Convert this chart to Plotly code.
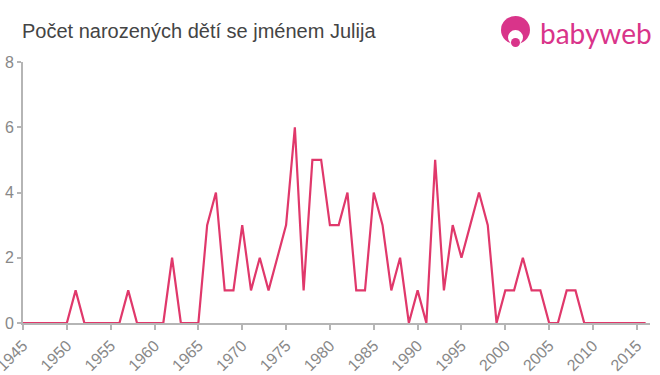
import plotly.graph_objects as go

years = list(range(1945, 2017))
counts = [0, 0, 0, 0, 0, 0, 1, 0, 0, 0,   # 1945-1954
          0, 0, 1, 0, 0, 0, 0, 2, 0, 0,   # 1955-1964
          0, 3, 4, 1, 1, 3, 1, 2, 1, 2,   # 1965-1974
          3, 6, 1, 5, 5, 3, 3, 4, 1, 1,   # 1975-1984
          4, 3, 1, 2, 0, 1, 0, 5, 1, 3,   # 1985-1994
          2, 3, 4, 3, 0, 1, 1, 2, 1, 1,   # 1995-2004
          0, 0, 1, 1, 0, 0, 0, 0, 0, 0,   # 2005-2014
          0, 0]                           # 2015-2016
x_ticks = list(range(1945, 2020, 5))
y_ticks = [0, 2, 4, 6, 8]

title_text = "Počet narozených dětí se jménem Julija"
logo_text = "babyweb"

line_color = "#e0386b"
logo_color = "#d9348a"
axis_color = "#b5b5b5"
label_color = "#888888"

L, R, T, B = 23, 10, 62, 52
W, H = 660, 375
pw = W - L - R
ph = H - T - B

def px(x):
    return (x - L) / pw

def py(y):
    return (H - B - y) / ph

fig = go.Figure()
fig.add_trace(go.Scatter(x=years, y=counts, mode="lines",
                         line=dict(color=line_color, width=2.2),
                         hoverinfo="x+y"))

fig.update_layout(
    width=W, height=H,
    margin=dict(l=L, r=R, t=T, b=B, autoexpand=False),
    paper_bgcolor="white", plot_bgcolor="white",
    showlegend=False,
    xaxis=dict(range=[1945, 2016.5], tickvals=x_ticks, ticktext=[str(t) for t in x_ticks],
               tickangle=-45, showgrid=False, zeroline=False, automargin=False,
               ticklabeloverflow="allow",
               showline=True, linecolor=axis_color, linewidth=2,
               ticks="outside", ticklen=5, tickcolor=axis_color, tickwidth=2,
               tickfont=dict(family="Liberation Sans, Arial", size=16, color=label_color)),
    yaxis=dict(range=[0, 8], tickvals=y_ticks, showgrid=False, zeroline=False, automargin=False,
               ticklabeloverflow="allow",
               showline=True, linecolor=axis_color, linewidth=2,
               ticks="outside", ticklen=4, tickcolor=axis_color, tickwidth=2,
               tickfont=dict(family="Liberation Sans, Arial", size=16, color=label_color)),
    annotations=[
        dict(text=title_text, x=px(20), y=py(31), xref="paper", yref="paper",
             showarrow=False, xanchor="left", yanchor="middle",
             font=dict(family="Liberation Sans, Arial", size=20, color="#444444")),
        dict(text=logo_text, x=px(654), y=py(33), xref="paper", yref="paper",
             showarrow=False, xanchor="right", yanchor="middle",
             font=dict(family="Lato, Noto Sans", size=28, color=logo_color)),
    ],
)

# logo icon
fig.add_shape(type="circle", xref="paper", yref="paper",
              x0=px(501), x1=px(530), y0=py(44), y1=py(16),
              fillcolor=logo_color, line=dict(width=0))
fig.add_shape(type="circle", xref="paper", yref="paper",
              x0=px(508), x1=px(523), y0=py(45), y1=py(30),
              fillcolor="white", line=dict(width=0))
fig.add_shape(type="circle", xref="paper", yref="paper",
              x0=px(511), x1=px(520), y0=py(47), y1=py(38),
              fillcolor=logo_color, line=dict(width=0))

fig.write_html("out.html", config={"displayModeBar": False},
               post_script="document.body.style.margin='0';document.body.style.overflow='hidden';")
